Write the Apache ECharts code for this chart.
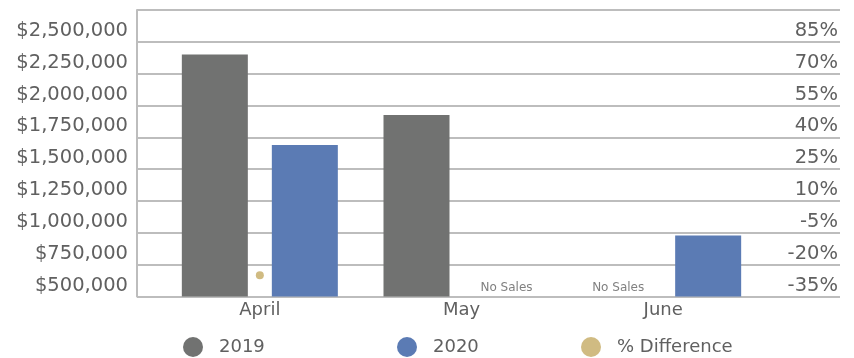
<!DOCTYPE html>
<html>
<head>
<meta charset="utf-8">
<script src="https://cdn.jsdelivr.net/npm/echarts@6/dist/echarts.min.js"></script>
<style>
  html, body { margin: 0; padding: 0; background: #fff; }
  #chart { width: 854px; height: 358px; }
</style>
</head>
<body>
<div id="chart"></div>
<script>
// Monthly sales, 2019 vs 2020 (null = no sales that month)
const months = ['April', 'May', 'June'];
const sales2019 = [2400000, 1925000, null];
const sales2020 = [1690000, null, 980000];
const pctDifference = [-25, null, null];

// Axis tick labels
const salesTicks = [500000, 750000, 1000000, 1250000, 1500000, 1750000, 2000000, 2250000, 2500000];
const pctTicks = [-35, -20, -5, 10, 25, 40, 55, 70, 85];

const SALES_MIN = 500000, SALES_MAX = 2750000, SALES_STEP = 250000;
const PCT_MIN = -35, PCT_MAX = 100;

const TEXT = '#606060';
const FONT = 'DejaVu Sans';
const WEIGHT = 'normal';
const GRID_LINE = '#bdbdbd';
const BAR_W = 66, BAR_GAP = 24;

const fmtMoney = v => '$' + Number(v).toLocaleString('en-US');

// "No Sales" markers sit at the axis floor in the empty bar slot
function noSalesPoints(values) {
  const pts = [];
  values.forEach((v, i) => { if (v === null) pts.push([months[i], SALES_MIN]); });
  return pts;
}

const slotOffset = (BAR_W + BAR_GAP) / 2;

const chart = echarts.init(document.getElementById('chart'), null, { renderer: 'canvas' });

chart.setOption({
  animation: false,
  textStyle: { fontFamily: FONT, color: TEXT, fontWeight: WEIGHT },
  grid: [
    { left: 137, right: 14, top: 10, bottom: 61.5 },      // frame: value axes + gridlines
    { left: 159, right: 90, top: 10, bottom: 61.5 }       // bars
  ],
  xAxis: [
    { gridIndex: 0, type: 'category', data: months, show: false },
    {
      gridIndex: 1, type: 'category', data: months,
      axisLine: { show: false }, axisTick: { show: false },
      axisLabel: { fontSize: 18, color: TEXT, fontFamily: FONT, fontWeight: WEIGHT, margin: 5 }
    }
  ],
  yAxis: [
    {
      gridIndex: 0, type: 'value', position: 'left',
      min: SALES_MIN, max: SALES_MAX, interval: SALES_STEP,
      axisLine: { show: true, lineStyle: { color: GRID_LINE, width: 2 } },
      axisTick: { show: false },
      splitLine: { show: true, lineStyle: { color: GRID_LINE, width: 2 } },
      axisLabel: {
        customValues: salesTicks,
        formatter: fmtMoney,
        fontSize: 19.5, color: TEXT, fontFamily: FONT, fontWeight: WEIGHT,
        margin: 9, verticalAlign: 'bottom', lineHeight: 22
      }
    },
    {
      gridIndex: 0, type: 'value', position: 'right',
      min: PCT_MIN, max: PCT_MAX,
      axisLine: { show: false }, axisTick: { show: false },
      splitLine: { show: false },
      axisLabel: {
        customValues: pctTicks,
        formatter: v => v + '%',
        inside: true,
        fontSize: 19.5, color: TEXT, fontFamily: FONT, fontWeight: WEIGHT,
        margin: 2, verticalAlign: 'bottom', lineHeight: 22
      }
    },
    { gridIndex: 1, type: 'value', min: SALES_MIN, max: SALES_MAX, show: false, splitLine: { show: false } },
    { gridIndex: 1, type: 'value', min: PCT_MIN, max: PCT_MAX, show: false, splitLine: { show: false } }
  ],
  legend: [
    { name: '2019', color: '#717271', left: 183 },
    { name: '2020', color: '#5b7bb4', left: 397 },
    { name: '% Difference', color: '#c4aa63', left: 581 }
  ].map(l => ({
    data: [{ name: l.name, itemStyle: { color: l.color } }],
    left: l.left, top: 337, padding: 0,
    icon: 'circle', itemWidth: 20, itemHeight: 20,
    selectedMode: false,
    textStyle: { fontSize: 18, color: TEXT, fontFamily: FONT, fontWeight: WEIGHT, padding: [0, 0, 0, 11] }
  })),
  series: [
    {
      name: '2019', type: 'bar', xAxisIndex: 1, yAxisIndex: 2,
      data: sales2019, barWidth: BAR_W, barGap: (BAR_GAP / BAR_W * 100) + '%',
      itemStyle: { color: '#717271' }
    },
    {
      name: '2020', type: 'bar', xAxisIndex: 1, yAxisIndex: 2,
      data: sales2020, barWidth: BAR_W,
      itemStyle: { color: '#5b7bb4' }
    },
    {
      name: '% Difference', type: 'scatter', xAxisIndex: 1, yAxisIndex: 3,
      data: pctDifference, symbol: 'circle', symbolSize: 8,
      itemStyle: { color: '#c4aa63' }
    },
    {
      name: 'no-sales-2019', type: 'scatter', xAxisIndex: 1, yAxisIndex: 2,
      data: noSalesPoints(sales2019), symbolSize: 0, silent: true,
      label: { show: true, formatter: 'No Sales', position: 'top', distance: 3,
               offset: [-slotOffset, 0], fontSize: 12, color: TEXT, fontFamily: FONT, fontWeight: WEIGHT }
    },
    {
      name: 'no-sales-2020', type: 'scatter', xAxisIndex: 1, yAxisIndex: 2,
      data: noSalesPoints(sales2020), symbolSize: 0, silent: true,
      label: { show: true, formatter: 'No Sales', position: 'top', distance: 3,
               offset: [slotOffset, 0], fontSize: 12, color: TEXT, fontFamily: FONT, fontWeight: WEIGHT }
    }
  ]
});
</script>
</body>
</html>
